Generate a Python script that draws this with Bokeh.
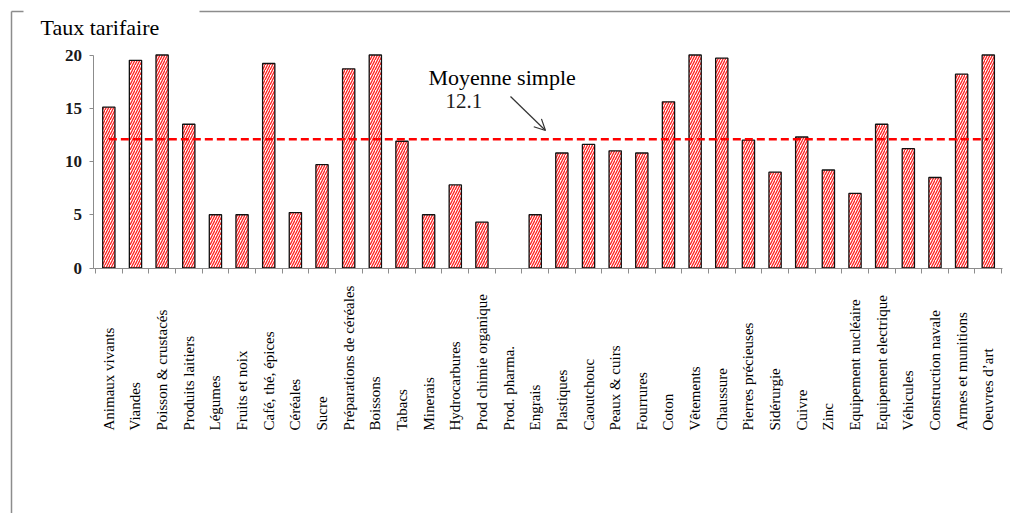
import math
from bokeh.plotting import figure
from bokeh.models import (ColumnDataSource, Range1d, FixedTicker, Label,
                          Arrow, OpenHead, LinearAxis)
from bokeh.core.properties import value
from bokeh.embed import file_html
from bokeh.resources import INLINE

categories = ["Animaux vivants", "Viandes", "Poisson & crustacés", "Produits laitiers",
              "Légumes", "Fruits et noix", "Café, thé, épices", "Céréales", "Sucre",
              "Préparations de céréales", "Boissons", "Tabacs", "Minerais", "Hydrocarbures",
              "Prod chimie organique", "Prod. pharma.", "Engrais", "Plastiques", "Caoutchouc",
              "Peaux & cuirs", "Fourrures", "Coton", "Vêtements", "Chaussure",
              "Pierres précieuses", "Sidérurgie", "Cuivre", "Zinc", "Equipement nucléaire",
              "Equipement electrique", "Véhicules", "Construction navale",
              "Armes et munitions", "Oeuvres d\u2019art"]
taux = [15.1, 19.5, 20.0, 13.5, 5.0, 5.0, 19.2, 5.2, 9.7, 18.7, 20.0, 11.9, 5.0, 7.8,
        4.3, 0.0, 5.0, 10.8, 11.6, 11.0, 10.8, 15.6, 20.0, 19.7, 12.0, 9.0, 12.3, 9.2,
        7.0, 13.5, 11.2, 8.5, 18.2, 20.0]
mean_value = 12.1
y_ticks = [0, 5, 10, 15, 20]

n = len(categories)
xc = [i + 0.5 for i in range(n)]
outline_alpha = [1.0 if v > 0 else 0.0 for v in taux]
src = ColumnDataSource(dict(x=xc, top=taux, cat=categories, la=outline_alpha))

SERIF = "Liberation Serif"
W, H = 1010, 513
# pixel geometry (page coords): category 0 starts at x=95, category n ends at 1001
PX_X0, PX_PER_X = 95.0, 26.65
PX_Y0, PX_PER_Y = 267.5, 10.65
def dx(px):
    return (px - PX_X0) / PX_PER_X
def dy(py):
    return (PX_Y0 - py) / PX_PER_Y

p = figure(width=W, height=H, output_backend="svg", toolbar_location=None,
           x_range=Range1d(dx(0), dx(W)), y_range=Range1d(dy(H), dy(0)),
           x_axis_location=None, y_axis_location=None,
           min_border=0, min_border_left=0, min_border_right=0,
           min_border_top=0, min_border_bottom=0)

p.vbar(x="x", top="top", width=0.46, source=src, fill_color="white",
       line_color="#111111", line_width=1.3, line_alpha="la",
       hatch_pattern="right_diagonal_line", hatch_color="#ff2020",
       hatch_scale=5, hatch_weight=1.3)

p.line(x=[xc[0], xc[-1]], y=[mean_value, mean_value], line_color="#ff0000",
       line_dash="8 4", line_width=2.5)

# x axis drawn at y = 0 with ticks between categories
xaxis = LinearAxis(fixed_location=0, bounds=(-0.09, n + 0.03),
                   ticker=FixedTicker(ticks=list(range(n + 1))),
                   major_label_overrides={i: "" for i in range(n + 1)},
                   axis_line_color="#8c8c8c", major_tick_line_color="#8c8c8c",
                   major_tick_out=5, major_tick_in=0, minor_tick_line_color=None)
p.add_layout(xaxis, "below")

yaxis = LinearAxis(fixed_location=-0.09, bounds=(0, 20),
                   ticker=FixedTicker(ticks=y_ticks),
                   axis_line_color="#8c8c8c", major_tick_line_color="#8c8c8c",
                   major_tick_out=4, major_tick_in=0, minor_tick_line_color=None,
                   major_label_text_font=SERIF, major_label_text_font_style="bold",
                   major_label_text_font_size="17px", major_label_text_color="#1a1a1a",
                   major_label_standoff=7)
p.add_layout(yaxis, "left")

p.grid.grid_line_color = None
p.outline_line_color = None

# rotated category labels, aligned at their start (bottom)
p.text(x="x", y=dy(430), text="cat", source=src, angle=math.pi / 2,
       text_align="left", text_baseline="alphabetic",
       text_font=value(SERIF), text_font_size="15px", text_color="#000000")

p.add_layout(Label(x=dx(40), y=dy(27), text="Taux tarifaire", text_font=SERIF,
                   text_font_size="22px", text_baseline="middle", text_color="#000000"))

p.add_layout(Label(x=dx(428), y=dy(77), text="Moyenne simple", text_font=SERIF,
                   text_font_size="22px", text_baseline="middle", text_color="#000000"))
p.add_layout(Label(x=dx(445), y=dy(100), text=f"{mean_value}", text_font=SERIF,
                   text_font_size="21px", text_baseline="middle", text_color="#1a1a1a"))
p.add_layout(Arrow(x_start=dx(510), y_start=dy(96), x_end=dx(545), y_end=dy(130),
                   line_color="#333333", line_width=1.2,
                   end=OpenHead(size=11, line_color="#333333", line_width=1.2)))

# outer frame lines of the original figure box
p.segment(x0=[dx(11), dx(11), dx(199)], y0=[dy(11), dy(11), dy(11)],
          x1=[dx(11), dx(23), dx(1012)], y1=[dy(520), dy(11), dy(11)],
          line_color="#8c8c8c", line_width=1.5)

open("out.html", "w").write(file_html(p, INLINE))
